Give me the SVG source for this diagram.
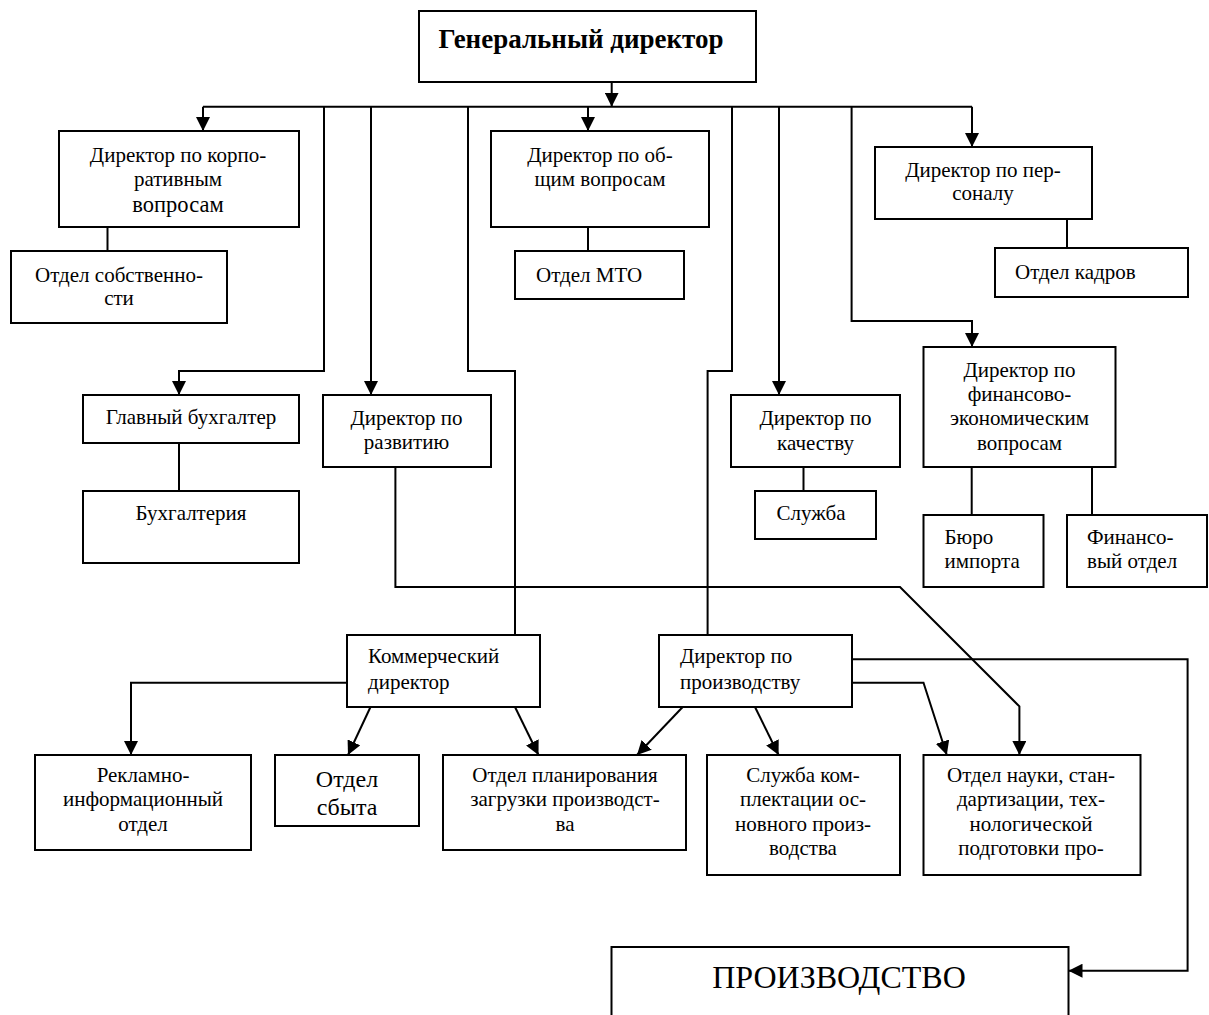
<svg xmlns="http://www.w3.org/2000/svg" width="1209" height="1015" viewBox="0 0 1209 1015">
<defs>
<style>
.b{fill:#fff;stroke:#000;stroke-width:2}
.t{font-family:"Liberation Serif","Times New Roman",serif;font-size:21px;fill:#000;text-anchor:middle}
.l{text-anchor:start}
.c{fill:none;stroke:#000;stroke-width:2}
.a{marker-end:url(#ah)}
</style>
<marker id="ah" markerUnits="userSpaceOnUse" markerWidth="14" markerHeight="14" refX="14" refY="7" orient="auto" viewBox="0 0 14 14">
<path d="M0,0 L14,7 L0,14 z" fill="#000"/>
</marker>
</defs>
<rect width="1209" height="1015" fill="#fff"/>
<g id="connectors">
<path class="c a" d="M611.7,82 V106.7"/>
<path class="c" d="M203,106.7 H972"/>
<path class="c a" d="M203,106.7 V131"/>
<path class="c a" d="M588,106.7 V131"/>
<path class="c a" d="M972,106.7 V147"/>
<path class="c" d="M107.5,227 V251"/>
<path class="c" d="M588,227 V251"/>
<path class="c" d="M1067,219 V248"/>
<path class="c a" d="M324,106.7 V371 H179 V395"/>
<path class="c a" d="M371,106.7 V395"/>
<path class="c" d="M468,106.7 V371 H515 V635"/>
<path class="c" d="M732,106.7 V371 H707.6 V635"/>
<path class="c a" d="M779,106.7 V395"/>
<path class="c a" d="M851.6,106.7 V321 H972 V347"/>
<path class="c" d="M179,443 V491"/>
<path class="c" d="M803.5,467 V491"/>
<path class="c" d="M971.7,467 V515"/>
<path class="c" d="M1092,467 V515"/>
<path class="c a" d="M395.4,467 V587 H900 L1019.4,706.4 V755"/>
<path class="c a" d="M347,682.7 H131 V755"/>
<path class="c a" d="M370.5,707 L348,755"/>
<path class="c a" d="M515,707 L538.5,755"/>
<path class="c a" d="M682.7,707 L637,755"/>
<path class="c a" d="M755,707 L778.6,755"/>
<path class="c a" d="M852,682.7 H923.5 L946.8,755"/>
<path class="c a" d="M852,659.3 H1187.6 V970.7 H1068.5"/>
</g>
<g id="gen"><rect class="b" x="419" y="11" width="337" height="71"/><text class="t" x="581" y="48" style="font-weight:bold;font-size:27px">Генеральный директор</text></g>
<g id="corp"><rect class="b" x="59" y="131" width="240" height="96"/><text class="t" x="178" y="162">Директор по корпо-</text><text class="t" x="178" y="186">ративным</text><text class="t" x="178" y="212" style="font-size:22.5px">вопросам</text></g>
<g id="sobst"><rect class="b" x="11" y="251" width="216" height="72"/><text class="t" x="119" y="282">Отдел собственно-</text><text class="t" x="119" y="305">сти</text></g>
<g id="obsch"><rect class="b" x="491" y="131" width="218" height="96"/><text class="t" x="600" y="162">Директор по об-</text><text class="t" x="600" y="186">щим вопросам</text></g>
<g id="mto"><rect class="b" x="515" y="251" width="169" height="48"/><text class="t l" x="536" y="282">Отдел МТО</text></g>
<g id="personal"><rect class="b" x="875" y="147" width="217" height="72"/><text class="t" x="983" y="177">Директор по пер-</text><text class="t" x="983" y="200">соналу</text></g>
<g id="kadry"><rect class="b" x="995" y="248" width="193" height="49"/><text class="t l" x="1015" y="279">Отдел кадров</text></g>
<g id="glavbuh"><rect class="b" x="83" y="395" width="216" height="48"/><text class="t" x="191" y="424">Главный бухгалтер</text></g>
<g id="buh"><rect class="b" x="83" y="491" width="216" height="72"/><text class="t" x="191" y="520">Бухгалтерия</text></g>
<g id="razvitie"><rect class="b" x="323" y="395" width="168" height="72"/><text class="t" x="406.5" y="425">Директор по</text><text class="t" x="406.5" y="449">развитию</text></g>
<g id="kachestvo"><rect class="b" x="731" y="395" width="169" height="72"/><text class="t" x="815.5" y="425">Директор по</text><text class="t" x="815.5" y="450">качеству</text></g>
<g id="sluzhba"><rect class="b" x="755" y="491" width="121" height="48"/><text class="t" x="811" y="520">Служба</text></g>
<g id="finecon"><rect class="b" x="923.5" y="347" width="192" height="120"/><text class="t" x="1019.5" y="377">Директор по</text><text class="t" x="1019.5" y="401">финансово-</text><text class="t" x="1019.5" y="425">экономическим</text><text class="t" x="1019.5" y="450">вопросам</text></g>
<g id="buro"><rect class="b" x="923.5" y="515" width="120" height="72"/><text class="t l" x="944.5" y="544">Бюро</text><text class="t l" x="944.5" y="568">импорта</text></g>
<g id="findept"><rect class="b" x="1067" y="515" width="140" height="72"/><text class="t l" x="1087" y="544">Финансо-</text><text class="t l" x="1087" y="568">вый отдел</text></g>
<g id="kommerch"><rect class="b" x="347" y="635" width="193" height="72"/><text class="t l" x="368" y="663">Коммерческий</text><text class="t l" x="368" y="689">директор</text></g>
<g id="proizvdir"><rect class="b" x="659" y="635" width="193" height="72"/><text class="t l" x="680" y="663">Директор по</text><text class="t l" x="680" y="689">производству</text></g>
<g id="reklama"><rect class="b" x="35" y="755" width="216" height="95"/><text class="t" x="143" y="782">Рекламно-</text><text class="t" x="143" y="806">информационный</text><text class="t" x="143" y="831">отдел</text></g>
<g id="sbyt"><rect class="b" x="275" y="755" width="144" height="71"/><text class="t" x="347" y="787" style="font-size:24px">Отдел</text><text class="t" x="347" y="815" style="font-size:24px">сбыта</text></g>
<g id="planning"><rect class="b" x="443" y="755" width="243" height="95"/><text class="t" x="565" y="782">Отдел планирования</text><text class="t" x="565" y="806">загрузки производст-</text><text class="t" x="565" y="831">ва</text></g>
<g id="komplekt"><rect class="b" x="707" y="755" width="193" height="120"/><text class="t" x="803" y="782">Служба ком-</text><text class="t" x="803" y="806">плектации ос-</text><text class="t" x="803" y="831">новного произ-</text><text class="t" x="803" y="855">водства</text></g>
<g id="nauka"><rect class="b" x="923.5" y="755" width="217" height="120"/><text class="t" x="1031" y="782">Отдел науки, стан-</text><text class="t" x="1031" y="806">дартизации, тех-</text><text class="t" x="1031" y="831">нологической</text><text class="t" x="1031" y="855">подготовки про-</text></g>
<g id="production"><rect class="b" x="611.5" y="947" width="457" height="80"/><text class="t" x="839" y="988" style="font-size:32px">ПРОИЗВОДСТВО</text></g>
</svg>
